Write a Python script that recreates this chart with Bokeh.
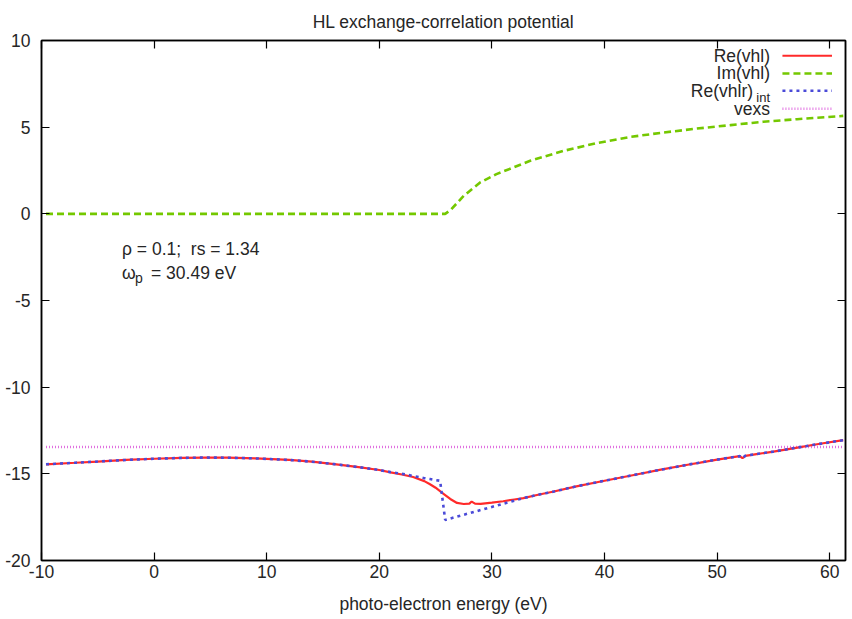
from bokeh.plotting import figure
from bokeh.models import Range1d, LinearAxis, Label, FixedTicker
from bokeh.embed import file_html
from bokeh.resources import INLINE

# ---------------- data ----------------
x_re = [-9.6, -7, -5, -2.5, 0, 2.5, 4.5, 6.5, 9, 12, 14, 16, 18, 20, 21, 22, 23, 24,
        24.5, 25, 25.7, 26.3, 26.9, 27.5, 28.0, 28.2, 28.5, 29, 30, 31, 32, 32.8, 34,
        35.5, 37.5, 40, 42.5, 45, 47.5, 48.5, 50, 52.0, 52.25, 52.5, 53.5, 55, 57, 59, 61.2]
re_vhl = [-14.45, -14.36, -14.29, -14.2, -14.13, -14.08, -14.06, -14.07, -14.11, -14.2,
          -14.3, -14.44, -14.6, -14.78, -14.92, -15.04, -15.18, -15.42, -15.6, -15.8,
          -16.15, -16.45, -16.68, -16.74, -16.72, -16.6, -16.72, -16.73, -16.66, -16.58,
          -16.48, -16.4, -16.22, -16.02, -15.72, -15.4, -15.08, -14.76, -14.46, -14.35,
          -14.18, -13.98, -14.1, -13.96, -13.86, -13.72, -13.5, -13.28, -13.06]

x_int = [-9.6, -7, -5, -2.5, 0, 2.5, 4.5, 6.5, 9, 12, 14, 16, 18, 20, 21, 22, 23, 24,
         24.5, 25, 25.4, 25.85, 29, 32.8, 34, 35.5, 37.5, 40, 42.5, 45, 47.5, 48.5, 50,
         52.0, 52.25, 52.5, 53.5, 55, 57, 59, 61.2]
re_int = [-14.45, -14.36, -14.29, -14.2, -14.13, -14.08, -14.06, -14.07, -14.11, -14.2,
          -14.3, -14.44, -14.6, -14.78, -14.9, -15.0, -15.12, -15.25, -15.3, -15.36,
          -15.4, -17.66, -17.09, -16.4, -16.22, -16.02, -15.72, -15.4, -15.08, -14.76,
          -14.46, -14.35, -14.18, -13.98, -14.1, -13.96, -13.86, -13.72, -13.5, -13.28, -13.06]

x_im = [-9.6, 25.85, 26.3, 26.9, 27.5, 28.95, 30.4, 33.4, 36.35, 39.3, 42.3, 45.25,
        48.2, 51.2, 54.1, 57.1, 61.2]
im_vhl = [0.0, 0.0, 0.2, 0.62, 1.04, 1.81, 2.29, 3.06, 3.63, 4.08, 4.44, 4.69, 4.92,
          5.12, 5.31, 5.46, 5.65]

x_vexs = [-9.6, 61.2]
vexs = [-13.45, -13.45]

x_ticks = [-10, 0, 10, 20, 30, 40, 50, 60]
x_tick_labels = ["-10", "0", "10", "20", "30", "40", "50", "60"]
y_ticks = [-20, -15, -10, -5, 0, 5, 10]
y_tick_labels = ["-20", "-15", "-10", "-5", "0", "5", "10"]

TITLE = "HL exchange-correlation potential"
XLABEL = "photo-electron energy (eV)"
NOTE1 = "\u03c1 = 0.1;\u00a0 rs = 1.34"
NOTE2_MAIN = "\u03c9"
NOTE2_SUB = "p"
NOTE2_REST = "= 30.49 eV"
LEGEND_NAMES = ["Re(vhl)", "Im(vhl)", "Re(vhlr)", "vexs"]
LEGEND_SUB = "int"

FONT = "Liberation Sans"
FS = "17.5px"
TXT = "#262626"
RED = "#ff2a2a"
GREEN = "#74c800"
BLUE = "#4a4ad8"
PINK = "#e070e0"

# ---------------- figure ----------------
p = figure(width=852, height=619, x_range=Range1d(-10, 61.4), y_range=Range1d(-20, 10),
           output_backend="svg", toolbar_location=None,
           min_border_left=41, min_border_right=7, min_border_top=40, min_border_bottom=59)
p.grid.visible = False
p.outline_line_color = "black"
p.outline_line_width = 1.5
p.background_fill_color = "white"
p.border_fill_color = "white"

p.title.text = TITLE
p.title.align = "center"
p.title.text_font = FONT
p.title.text_font_size = FS
p.title.text_font_style = "normal"
p.title.text_color = TXT
p.title.text_line_height = 0.6
p.title.standoff = 18


def style_axis(ax):
    ax.axis_line_color = "black"
    ax.axis_line_width = 1.5
    ax.major_tick_in = 8
    ax.major_tick_out = 0
    ax.major_tick_line_color = "black"
    ax.major_tick_line_width = 1.2
    ax.minor_tick_line_color = None
    ax.major_label_text_font = FONT
    ax.major_label_text_color = TXT


xa = p.xaxis[0]
ya = p.yaxis[0]
xa.ticker = FixedTicker(ticks=x_ticks)
ya.ticker = FixedTicker(ticks=y_ticks)
style_axis(xa)
style_axis(ya)
xa.major_label_overrides = {t: s for t, s in zip(x_ticks, x_tick_labels)}
ya.major_label_overrides = {t: s for t, s in zip(y_ticks, y_tick_labels)}
xa.major_label_text_font_size = FS
xa.major_label_standoff = 4
ya.major_label_text_font_size = FS
ya.major_label_standoff = 11
xa.axis_label = XLABEL
xa.axis_label_text_font = FONT
xa.axis_label_text_font_size = FS
xa.axis_label_text_font_style = "normal"
xa.axis_label_text_color = TXT
xa.axis_label_standoff = 13

# mirror ticks (no labels) on right and top, as gnuplot draws them
ra = LinearAxis(ticker=FixedTicker(ticks=y_ticks))
style_axis(ra)
ra.major_label_overrides = {t: "" for t in y_ticks}
ra.major_label_standoff = 0
p.add_layout(ra, "right")
ta = LinearAxis(ticker=FixedTicker(ticks=x_ticks))
style_axis(ta)
ta.major_label_overrides = {t: "" for t in x_ticks}
ta.major_label_standoff = 0
p.add_layout(ta, "above")

# ---------------- series ----------------
VEXS_STYLE = dict(line_color=PINK, line_width=2.4, line_dash="1 2")
RE_STYLE = dict(line_color=RED, line_width=2.2)
IM_STYLE = dict(line_color=GREEN, line_width=2.6, line_dash="7 4")
INT_STYLE = dict(line_color=BLUE, line_width=2.6, line_dash="3 4")

p.line(x_vexs, vexs, **VEXS_STYLE)
p.line(x_re, re_vhl, **RE_STYLE)
p.line(x_im, im_vhl, **IM_STYLE)
p.line(x_int, re_int, **INT_STYLE)

# ---------------- legend (gnuplot style: text left, sample right) ----------------
LX_TEXT = 54.7
LX0, LX1 = 55.8, 60.2
LY = [9.12, 8.1, 7.1, 6.06]
styles = [RE_STYLE, IM_STYLE, INT_STYLE, VEXS_STYLE]
for i, (nm, st) in enumerate(zip(LEGEND_NAMES, styles)):
    p.line([LX0, LX1], [LY[i], LY[i]], **st)
    off = -17 if i == 2 else 0
    p.add_layout(Label(x=LX_TEXT, y=LY[i], text=nm, x_offset=off, text_align="right",
                       text_baseline="middle", text_font=FONT, text_font_size=FS,
                       text_color=TXT))
p.add_layout(Label(x=LX_TEXT, y=LY[2], text=LEGEND_SUB, y_offset=-7, text_align="right",
                   text_baseline="middle", text_font=FONT, text_font_size="13px",
                   text_color=TXT))

# ---------------- annotation ----------------
NX, NY1, NY2 = -2.85, -2.0, -3.4
p.add_layout(Label(x=NX, y=NY1, text=NOTE1, text_baseline="middle", text_font=FONT,
                   text_font_size=FS, text_color=TXT))
p.add_layout(Label(x=NX, y=NY2, text=NOTE2_MAIN, text_baseline="middle", text_font=FONT,
                   text_font_size=FS, text_color=TXT))
p.add_layout(Label(x=NX, y=NY2, text=NOTE2_SUB, x_offset=13, y_offset=-5,
                   text_baseline="middle", text_font=FONT, text_font_size="14px",
                   text_color=TXT))
p.add_layout(Label(x=NX, y=NY2, text=NOTE2_REST, x_offset=29, text_baseline="middle",
                   text_font=FONT, text_font_size=FS, text_color=TXT))

open("out.html", "w").write(file_html(p, INLINE))
